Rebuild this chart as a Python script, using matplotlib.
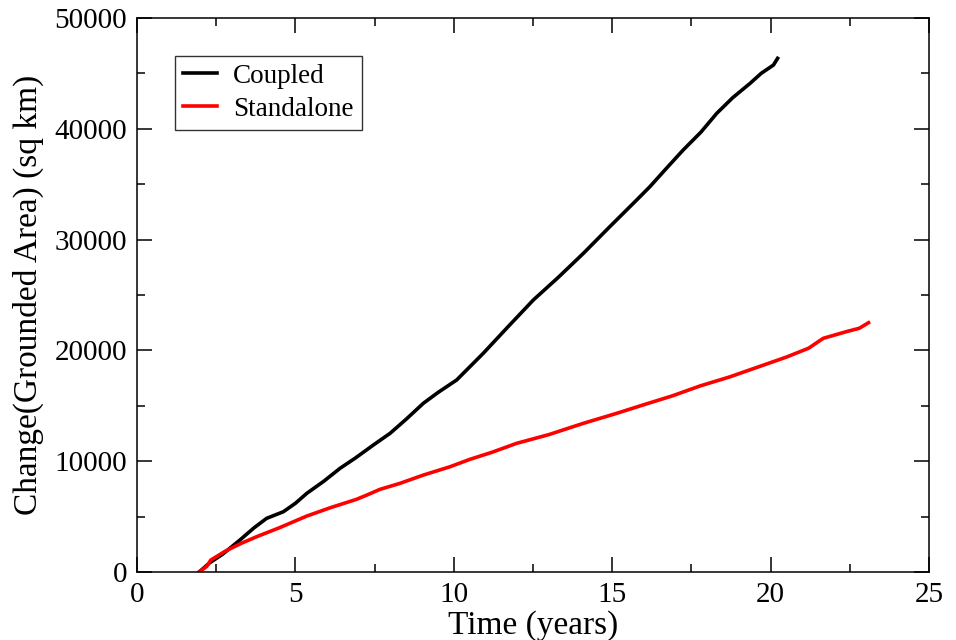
import matplotlib
matplotlib.use("Agg")
import matplotlib.pyplot as plt
from matplotlib.ticker import MultipleLocator

plt.rcParams['font.family'] = ['Liberation Serif', 'DejaVu Serif']

# Valores
t_coupled = [1.96, 2.3, 2.7, 3.25, 3.7, 4.09, 4.62, 5.0, 5.36, 5.9, 6.41, 6.9,
             7.46, 7.99, 8.5, 9.04, 9.5, 10.09, 10.93, 11.7, 12.51, 13.3, 14.09,
             14.9, 15.77, 16.19, 16.7, 17.24, 17.8, 18.30, 18.8, 19.35, 19.7,
             20.09, 20.22]
v_coupled = [0, 840, 1600, 2890, 4000, 4840, 5440, 6200, 7100, 8200, 9360, 10300,
             11460, 12520, 13800, 15230, 16200, 17330, 19740, 22100, 24550, 26600,
             28760, 31100, 33570, 34780, 36400, 38090, 39700, 41400, 42800, 44100,
             45000, 45760, 46360]

t_standalone = [1.96, 2.2, 2.33, 2.8, 3.3, 3.78, 4.5, 5.36, 6.1, 6.93, 7.3, 7.67,
                8.3, 9.04, 9.88, 10.51, 11.2, 11.98, 13.0, 14.09, 15.14, 16.0,
                16.9, 17.77, 18.7, 19.6, 20.5, 21.2, 21.66, 22.4, 22.8, 23.09]
v_standalone = [0, 500, 1080, 1900, 2600, 3190, 4000, 5050, 5800, 6560, 7000, 7460,
                8000, 8750, 9500, 10170, 10800, 11610, 12400, 13420, 14320, 15100,
                15900, 16790, 17600, 18500, 19400, 20200, 21090, 21700, 22000, 22500]

fig = plt.figure(figsize=(9.56, 6.4), dpi=100)
ax = fig.add_axes([0.1433, 0.10625, 0.8285, 0.8656])

ax.plot(t_coupled, v_coupled, color='black', lw=2.6, label='Coupled')
ax.plot(t_standalone, v_standalone, color='red', lw=2.6, label='Standalone')

ax.set_xlim(0, 25)
ax.set_ylim(0, 50000)
ax.xaxis.set_major_locator(MultipleLocator(5))
ax.xaxis.set_minor_locator(MultipleLocator(2.5))
ax.yaxis.set_major_locator(MultipleLocator(10000))
ax.yaxis.set_minor_locator(MultipleLocator(5000))
ax.tick_params(which='both', direction='in', top=True, right=True,
               width=1.1, labelsize=21)
ax.tick_params(which='major', length=11, pad=7)
ax.tick_params(which='minor', length=5.5)
for s in ax.spines.values():
    s.set_linewidth(1.1)

ax.set_xlabel('Time (years)', fontsize=24, labelpad=2)
ax.set_ylabel('Change(Grounded Area) (sq km)', fontsize=24, labelpad=8)

leg = ax.legend(loc='upper left', bbox_to_anchor=(0.048, 0.932), fontsize=19.5,
                frameon=True, fancybox=False, edgecolor='black',
                handlelength=1.25, handletextpad=0.6, borderpad=0.3,
                labelspacing=0.3, borderaxespad=0)
leg.get_frame().set_linewidth(1.0)

fig.savefig('out.png', dpi=100)
